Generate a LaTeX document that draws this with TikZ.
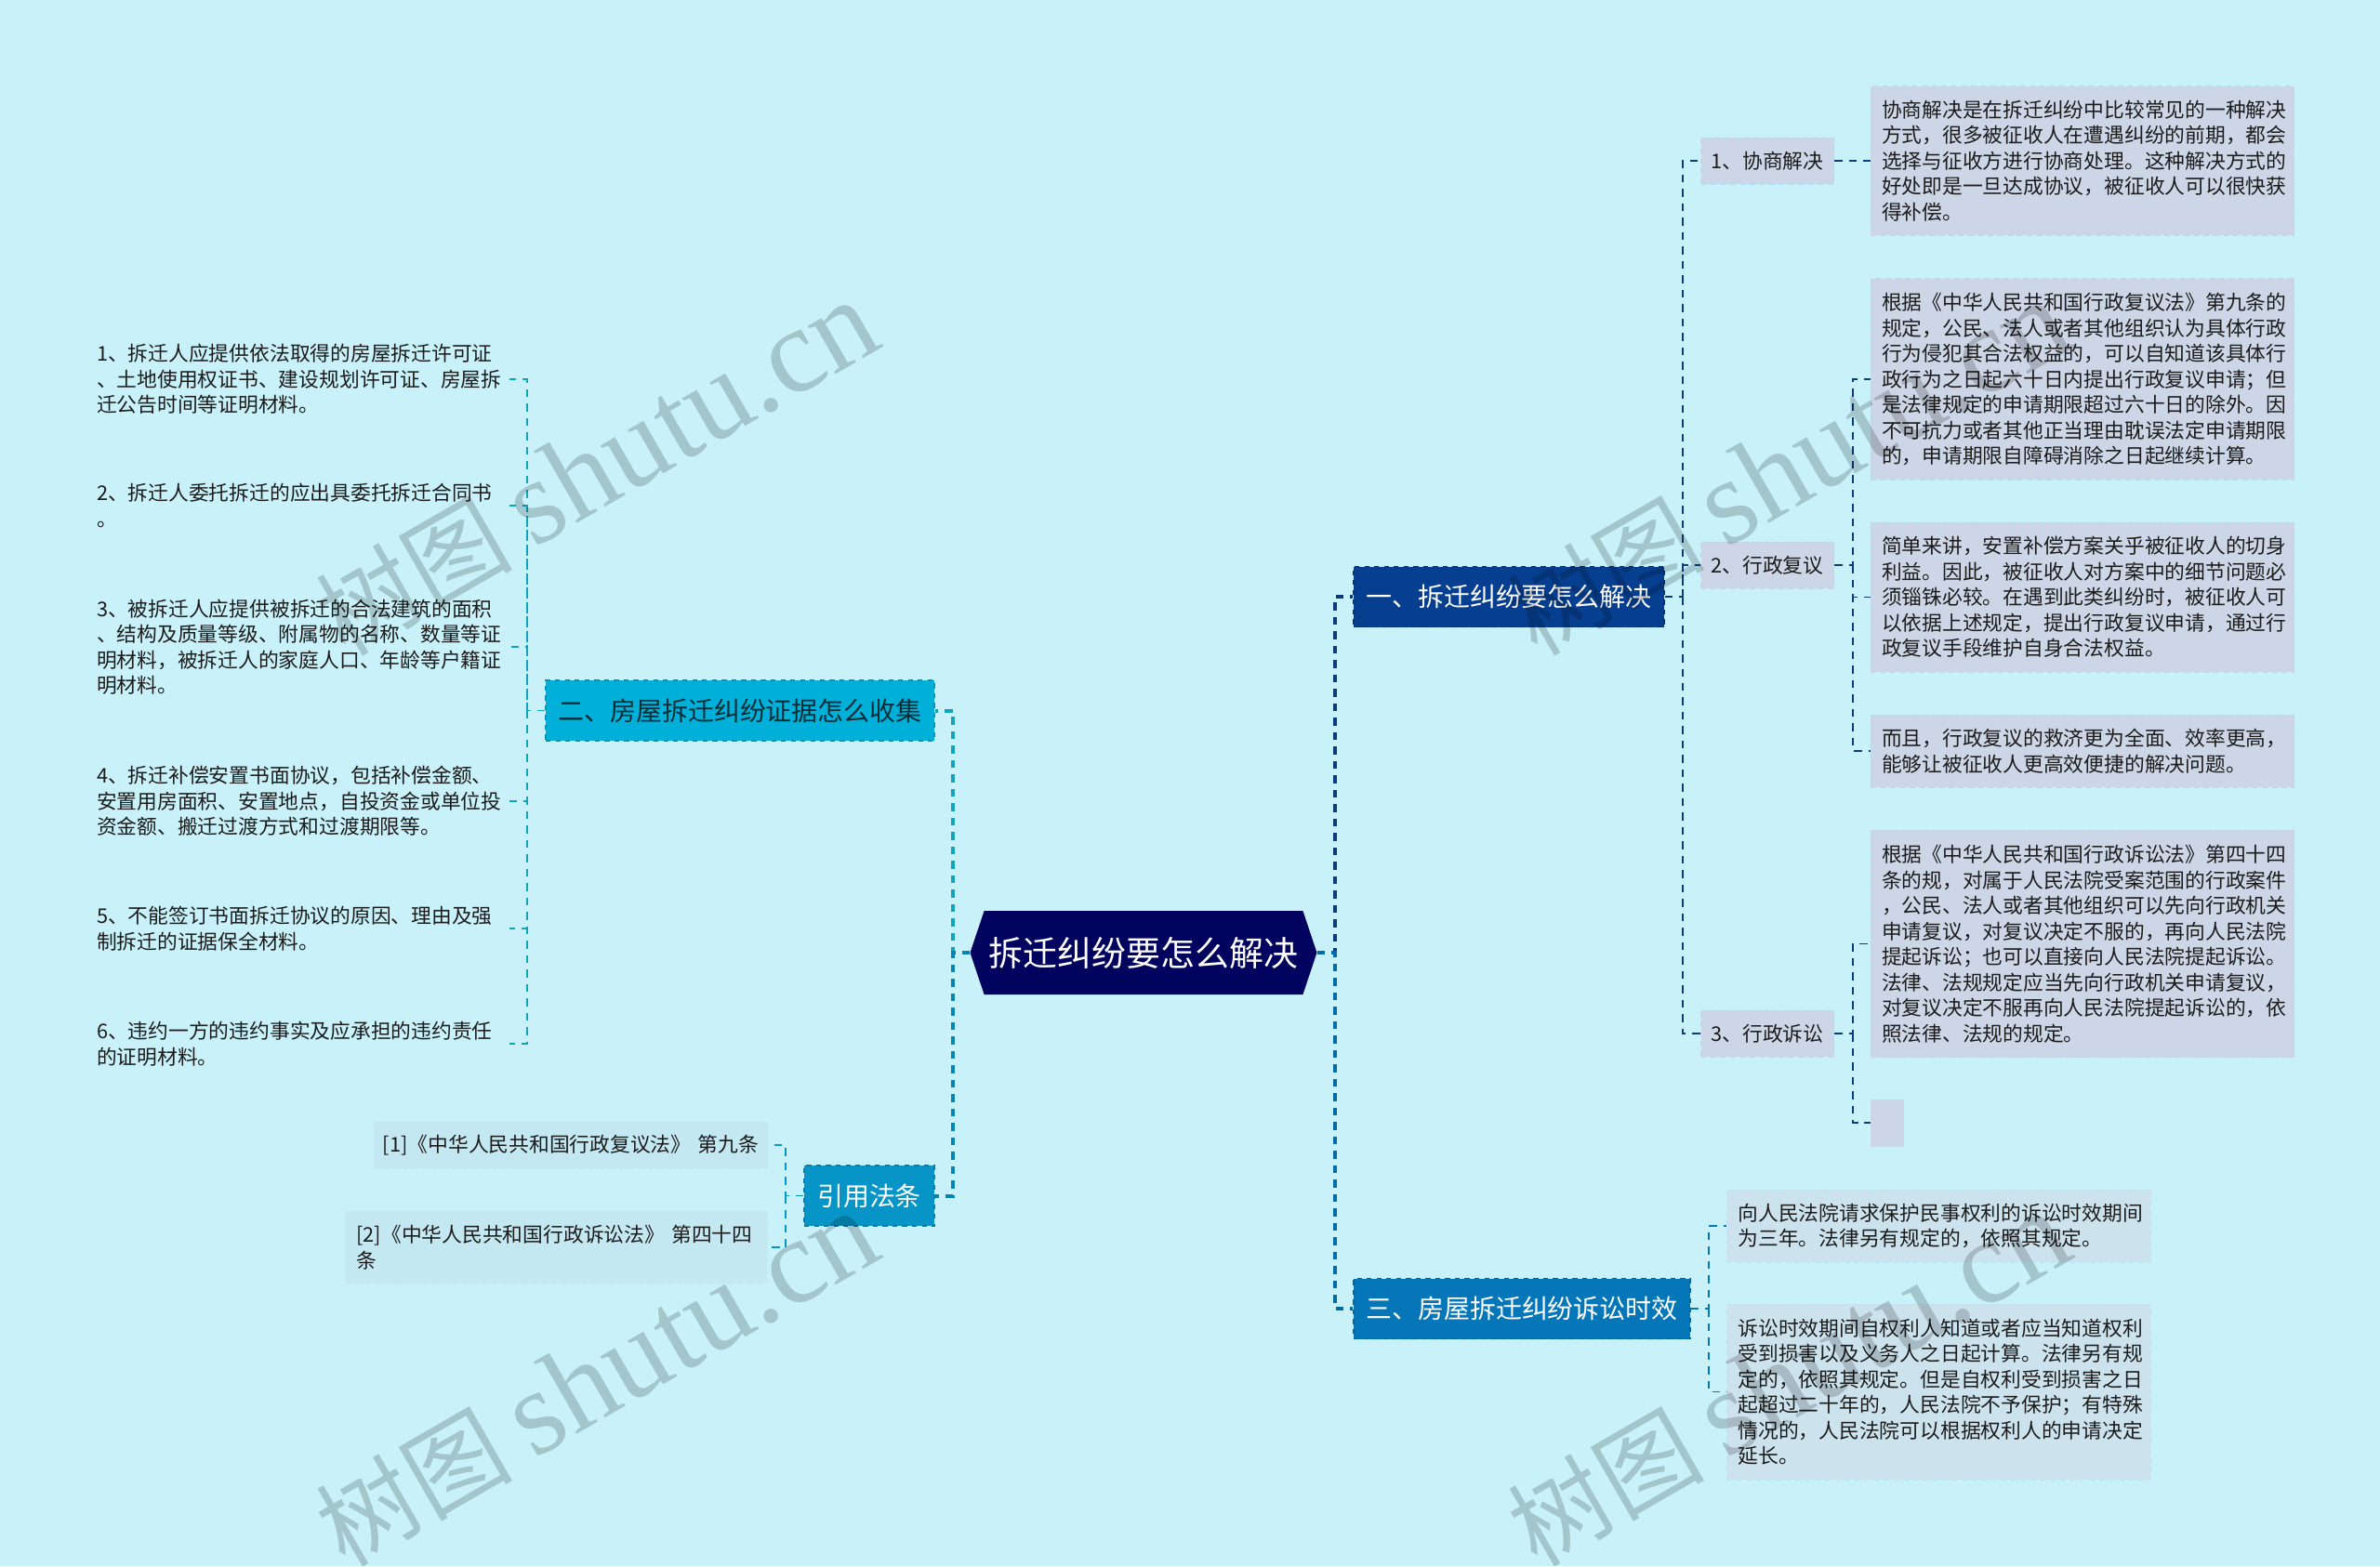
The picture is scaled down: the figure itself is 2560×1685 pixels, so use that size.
\documentclass[tikz,border=0pt]{standalone}
\usepackage{xcolor}
\usepackage{fontspec}
\usetikzlibrary{shapes.symbols}
\setmainfont{Noto Sans CJK SC}
\newfontfamily\wmfont{Liberation Serif}
\definecolor{bgcol}{HTML}{C8F1F9}
\definecolor{rootcol}{HTML}{02025F}
\definecolor{yicol}{HTML}{063F90}
\definecolor{ercol}{HTML}{00B0D8}
\definecolor{sancol}{HTML}{0577B8}
\definecolor{yycol}{HTML}{0794C6}
\definecolor{detcol}{HTML}{CCD6E6}
\definecolor{sandet}{HTML}{CCE3EE}
\definecolor{yydet}{HTML}{C4E8F2}
\definecolor{txtcol}{HTML}{1C1C1C}
\definecolor{navyline}{HTML}{0B3C7C}
\definecolor{tealline}{HTML}{14A3B8}
\begin{document}
\begin{tikzpicture}[x=0.02cm,y=-0.02cm,
    head/.style={dashed,line width=0.03cm,minimum height=1.3cm,inner sep=0,font=\fontsize{15.9}{20}\selectfont},
    box/.style={dashed,line width=0.02cm,inner xsep=0.24cm,inner ysep=0,text=txtcol,align=left,text width=8.64cm,font=\fontsize{12.39}{15.65}\selectfont},
    det/.style={box,fill=detcol,draw=detcol!85!cyan},
    sdet/.style={box,fill=sandet,draw=sandet!90!cyan},
    lab/.style={det,inner xsep=0.18cm,text width=2.5cm,minimum height=1cm,align=center},
    note/.style={box},
    yy/.style={box,fill=yydet,draw=yydet,text width=#1},
    trunk/.style={line width=0.08cm,dash pattern=on 0.17cm off 0.14cm},
    twig/.style={line width=0.03cm,dash pattern=on 0.17cm off 0.14cm},
    wmark/.style={rotate=30,text=black,text opacity=0.18,font=\fontsize{60}{75}\selectfont}]
    \clip (0,0) rectangle (2560,1685);
    \fill[bgcol] (0,0) rectangle (2560,1685);
    % centre
    \node[signal,signal to=east and west,signal pointer angle=143,fill=rootcol,text=white,minimum width=7.46cm,minimum height=1.8cm,inner sep=0,font=\fontsize{21}{25}\selectfont](root) at (1230,1025){拆迁纠纷要怎么解决};
    \coordinate (jr) at (1436,1025);
    \coordinate (jl) at (1025,1025);
    % right side
    \node[head,fill=yicol,draw=yicol!80!black,text=white,minimum width=6.69cm](yi) at (1623,642){一、拆迁纠纷要怎么解决};
    \node[head,fill=sancol,draw=sancol!85!black,text=white,minimum width=7.24cm](san) at (1637,1408){三、房屋拆迁纠纷诉讼时效};
    \coordinate (jyi) at (1810,642);
    \coordinate (jsan) at (1838,1408);
    \node[lab](lab1) at (1901,173){1、协商解决};
    \node[lab](lab2) at (1901,608){2、行政复议};
    \node[lab](lab3) at (1901,1112){3、行政诉讼};
    \coordinate (jlab2) at (1993,608);
    \coordinate (jlab3) at (1993,1112);
    \node[det,minimum height=3.22cm](d1) at (2240,173){协商解决是在拆迁纠纷中比较常见的一种解决\\方式，很多被征收人在遭遇纠纷的前期，都会\\选择与征收方进行协商处理。这种解决方式的\\好处即是一旦达成协议，被征收人可以很快获\\得补偿。};
    \node[det,minimum height=4.34cm](d2) at (2240,408){根据《中华人民共和国行政复议法》第九条的\\规定，公民、法人或者其他组织认为具体行政\\行为侵犯其合法权益的，可以自知道该具体行\\政行为之日起六十日内提出行政复议申请；但\\是法律规定的申请期限超过六十日的除外。因\\不可抗力或者其他正当理由耽误法定申请期限\\的，申请期限自障碍消除之日起继续计算。};
    \node[det,minimum height=3.22cm](d3) at (2240,642.5){简单来讲，安置补偿方案关乎被征收人的切身\\利益。因此，被征收人对方案中的细节问题必\\须锱铢必较。在遇到此类纠纷时，被征收人可\\以依据上述规定，提出行政复议申请，通过行\\政复议手段维护自身合法权益。};
    \node[det,minimum height=1.56cm](d4) at (2240,808){而且，行政复议的救济更为全面、效率更高，\\能够让被征收人更高效便捷的解决问题。};
    \node[det,minimum height=4.9cm](d5) at (2240,1015.5){根据《中华人民共和国行政诉讼法》第四十四\\条的规，对属于人民法院受案范围的行政案件\\，公民、法人或者其他组织可以先向行政机关\\申请复议，对复议决定不服的，再向人民法院\\提起诉讼；也可以直接向人民法院提起诉讼。\\法律、法规规定应当先向行政机关申请复议，\\对复议决定不服再向人民法院提起诉讼的，依\\照法律、法规的规定。};
    \node[fill=detcol,minimum width=0.72cm,minimum height=1.02cm,inner sep=0](d6) at (2030,1208){};
    \node[sdet,minimum height=1.56cm](d7) at (2085.5,1319){向人民法院请求保护民事权利的诉讼时效期间\\为三年。法律另有规定的，依照其规定。};
    \node[sdet,minimum height=3.78cm](d8) at (2085.5,1497.5){诉讼时效期间自权利人知道或者应当知道权利\\受到损害以及义务人之日起计算。法律另有规\\定的，依照其规定。但是自权利受到损害之日\\起超过二十年的，人民法院不予保护；有特殊\\情况的，人民法院可以根据权利人的申请决定\\延长。};
    % left side
    \node[head,fill=ercol,draw=ercol!85!black,text=black!75!ercol,minimum width=8.36cm](er) at (796,764.5){二、房屋拆迁纠纷证据怎么收集};
    \node[head,fill=yycol,draw=yycol!85!black,text=white,minimum width=2.8cm](yy) at (935,1286.5){引用法条};
    \coordinate (jer) at (567,764.5);
    \coordinate (jyy) at (845,1286.5);
    \node[note](a1) at (320,408){1、拆迁人应提供依法取得的房屋拆迁许可证\\、土地使用权证书、建设规划许可证、房屋拆\\迁公告时间等证明材料。};
    \node[note](a2) at (320,544){2、拆迁人委托拆迁的应出具委托拆迁合同书\\。};
    \node[note](a3) at (320,696){3、被拆迁人应提供被拆迁的合法建筑的面积\\、结构及质量等级、附属物的名称、数量等证\\明材料，被拆迁人的家庭人口、年龄等户籍证\\明材料。};
    \node[note](a4) at (320,862){4、拆迁补偿安置书面协议，包括补偿金额、\\安置用房面积、安置地点，自投资金或单位投\\资金额、搬迁过渡方式和过渡期限等。};
    \node[note](a5) at (320,999){5、不能签订书面拆迁协议的原因、理由及强\\制拆迁的证据保全材料。};
    \node[note](a6) at (320,1123){6、违约一方的违约事实及应承担的违约责任\\的证明材料。};
    \node[yy=8.2cm,inner xsep=0.14cm,minimum height=1cm,align=center](c1) at (614,1232){[1]《中华人民共和国行政复议法》 第九条};
    \node[yy=8.6cm,minimum height=1.56cm](c2) at (598.5,1342){[2]《中华人民共和国行政诉讼法》 第四十四\\条};
    % links
    \draw[trunk,color=navyline] (root.east) -- (jr) |- (yi.west);
    \draw[trunk,color=sancol!90!black] (root.east) -- (jr) |- (san.west);
    \draw[trunk,color=tealline] (root.west) -- (jl) |- (er.east);
    \draw[trunk,color=yycol!90!black] (root.west) -- (jl) |- (yy.east);
    \draw[twig,color=navyline] (yi.east) -- (jyi) |- (lab1.west) (jyi) |- (lab2.west) (jyi) |- (lab3.west);
    \draw[twig,color=navyline] (lab1.east) -- (d1.west);
    \draw[twig,color=navyline] (lab2.east) -- (jlab2) |- (d2.west) (jlab2) |- (d3.west) (jlab2) |- (d4.west);
    \draw[twig,color=navyline] (lab3.east) -- (jlab3) |- (d5.west) (jlab3) |- (d6.west);
    \draw[twig,color=sancol] (san.east) -- (jsan) |- (d7.west) (jsan) |- (d8.west);
    \draw[twig,color=tealline] (er.west) -- (jer) |- (a1.east) (jer) |- (a2.east) (jer) |- (a3.east) (jer) |- (a4.east) (jer) |- (a5.east) (jer) |- (a6.east);
    \draw[twig,color=yycol] (yy.west) -- (jyy) |- (c1.east) (jyy) |- (c2.east);
    % site mark
    \node[wmark](w1) at (642,504){树图 {\wmfont\fontsize{74}{75}\selectfont shutu.cn}};
    \node[wmark](w2) at (642,1484){树图 {\wmfont\fontsize{74}{75}\selectfont shutu.cn}};
    \node[wmark](w3) at (1924,504){树图 {\wmfont\fontsize{74}{75}\selectfont shutu.cn}};
    \node[wmark](w4) at (1924,1484){树图 {\wmfont\fontsize{74}{75}\selectfont shutu.cn}};
\end{tikzpicture}
\end{document}
